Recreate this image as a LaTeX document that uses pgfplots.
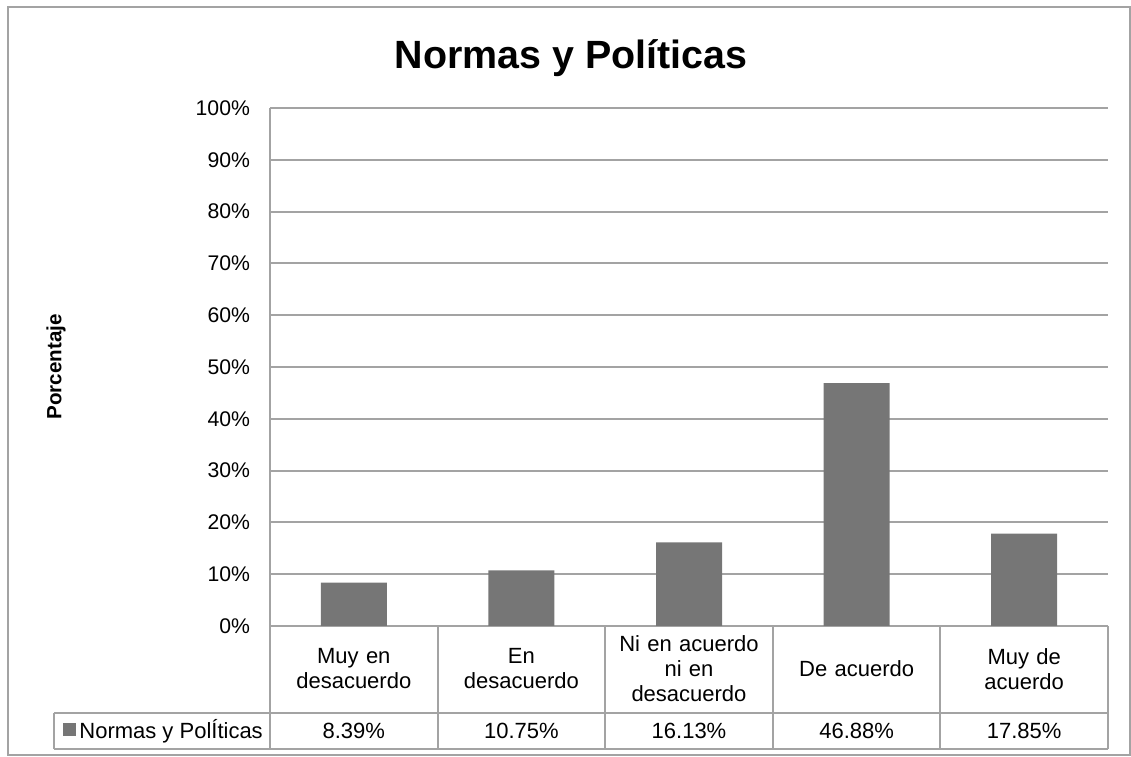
\documentclass[border=0pt]{standalone}
\usepackage{pgfplots}
\pgfplotsset{compat=1.18}
\usepackage{fontspec}
\setmainfont{Liberation Sans}
\definecolor{barc}{HTML}{767676}
\definecolor{linec}{HTML}{A3A3A3}
\newcommand{\tfont}{\fontsize{11}{12.5}\selectfont}
\begin{document}
\begin{tikzpicture}
\useasboundingbox (0,0) rectangle (565.5pt,378pt);
\draw[linec, line width=1pt] (4pt,0.5pt) rectangle (565pt,374.5pt);
\begin{axis}[
  at={(135pt,65pt)}, anchor=south west,
  scale only axis, width=419pt, height=259pt,
  ymin=0, ymax=100, ytick={0,10,...,100},
  xmin=-0.5, xmax=4.5, xtick={0,1,2,3,4},
  xticklabels={{Muy en\\desacuerdo},{En\\desacuerdo},{Ni en acuerdo\\ni en\\desacuerdo},{De acuerdo},{Muy de\\acuerdo}},
  xticklabel style={font=\tfont, text width=78pt, align=center, anchor=center, yshift=-21.5pt},
  yticklabel={\pgfmathprintnumber{\tick}\%},
  /pgf/number format/assume math mode=true,
  yticklabel style={font=\fontsize{10.6}{12}\selectfont, anchor=east, xshift=-6.5pt},
  ymajorgrids, major grid style={linec, line width=1pt},
  axis y line*=left, axis x line*=bottom,
  axis line style={linec, line width=1pt},
  major tick length=0pt,
  ylabel={Porcentaje},
  ylabel style={font=\fontsize{10.3}{12}\selectfont\bfseries, at={(axis description cs:-0.2554,0.5)}, anchor=center},
  title={Normas y Políticas},
  title style={font=\fontsize{19.7}{23}\selectfont\bfseries, at={(axis description cs:0.359,1)}, anchor=center, yshift=19pt},
  ybar, bar width=33pt,
]
\addplot[fill=barc, draw=none] coordinates {(0,8.39) (1,10.75) (2,16.13) (3,46.88) (4,17.85)};
\end{axis}
\begin{scope}[x=0.5pt,y=-0.5pt,shift={(0,378pt)}]
\draw[linec, line width=1pt] (54,713) -- (1108,713) (54,749) -- (1108,749) (54,713) -- (54,749);
\foreach \k in {0,...,5}{\draw[linec, line width=1pt] ({270+167.6*\k},626) -- ({270+167.6*\k},749);}
\fill[barc] (63,723) rectangle (76,736);
\node[anchor=west, font=\tfont, inner sep=1pt] at (77,731) {Normas y PolÍticas};
\foreach \k/\v in {0/8.39,1/10.75,2/16.13,3/46.88,4/17.85}{\node[font=\tfont] at ({270+167.6*(\k+0.5)},731) {\v\%};}
\end{scope}
\end{tikzpicture}
\end{document}
